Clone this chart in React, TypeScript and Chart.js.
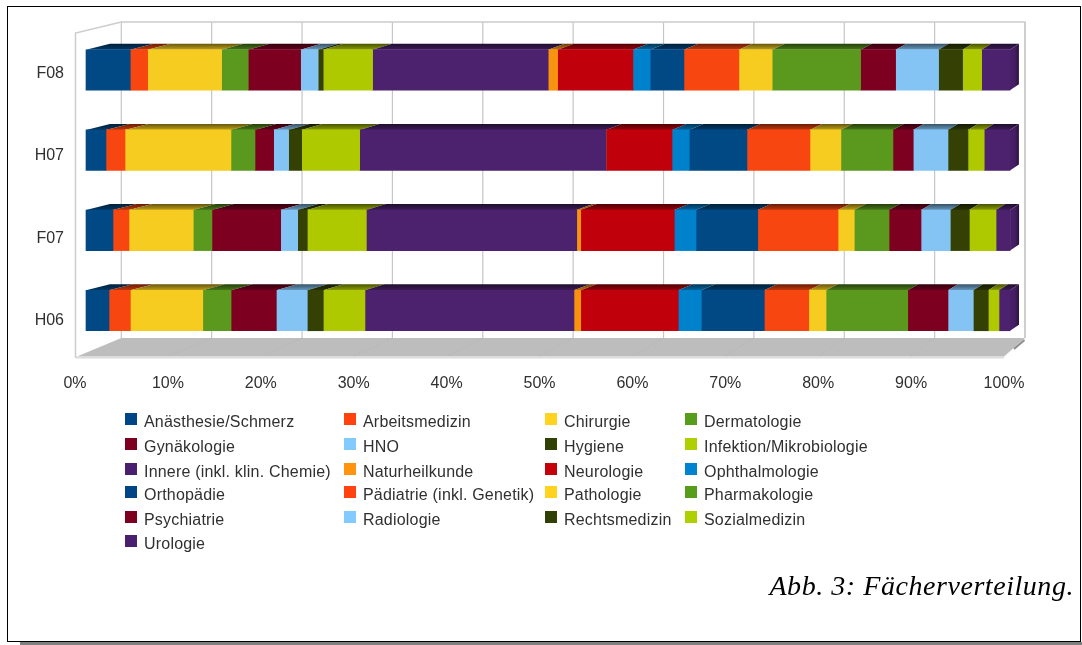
import React, { useEffect, useRef } from "react";
import { Chart, registerables } from "chart.js";

Chart.register(...registerables);

const periods = ["F08", "H07", "F07", "H06"];
const percentTicks = [0, 10, 20, 30, 40, 50, 60, 70, 80, 90, 100];

const subjects = [
  "Anästhesie/Schmerz", "Arbeitsmedizin", "Chirurgie", "Dermatologie",
  "Gynäkologie", "HNO", "Hygiene", "Infektion/Mikrobiologie",
  "Innere (inkl. klin. Chemie)", "Naturheilkunde", "Neurologie", "Ophthalmologie",
  "Orthopädie", "Pädiatrie (inkl. Genetik)", "Pathologie", "Pharmakologie",
  "Psychiatrie", "Radiologie", "Rechtsmedizin", "Sozialmedizin",
  "Urologie",
];

const legendColors = [
  "#004586", "#ff420e", "#ffd320", "#579d1c", "#7e0021", "#83caff", "#314004", "#aecf00",
  "#4b1f6f", "#ff950e", "#c5000b", "#0084d1", "#004586", "#ff420e", "#ffd320", "#579d1c",
  "#7e0021", "#83caff", "#314004", "#aecf00", "#4b1f6f",
];
const barColors = [
  "#004985", "#f7460f", "#f5cc1f", "#5a991e", "#7e0021", "#83c4f5", "#344004", "#aec900",
  "#4c216e", "#f7930e", "#c0000b", "#0081cc", "#004985", "#f7460f", "#f5cc1f", "#5a991e",
  "#7e0021", "#83c4f5", "#344004", "#aec900", "#4c216e",
];

const f08 = [4.79, 1.88, 8.01, 2.88, 5.67, 1.9, 0.54, 5.35, 19.0, 1.02, 8.15, 1.87, 3.65, 5.95, 3.6, 9.57, 3.79, 4.65, 2.6, 2.06, 3.06];
const h07 = [2.16, 2.06, 11.47, 2.6, 2.02, 1.62, 1.41, 6.28, 26.66, 0, 7.14, 1.87, 6.24, 6.82, 3.35, 5.63, 2.2, 3.76, 2.16, 1.76, 2.78];
const f07 = [2.92, 1.73, 6.96, 2.02, 7.44, 1.84, 1.04, 6.39, 22.77, 0.43, 10.13, 2.35, 6.68, 8.69, 1.76, 3.76, 3.46, 3.17, 2.06, 2.89, 1.52];
const h06 = [2.49, 2.31, 7.84, 3.06, 4.9, 3.35, 1.73, 4.51, 22.62, 0.73, 10.56, 2.49, 6.82, 4.81, 1.87, 8.84, 4.36, 2.74, 1.62, 1.16, 1.19];
const seriesByPeriod = [f08, h07, f07, h06];

const legendColumns = [125, 344, 545, 685];
const legendRows = [419, 444, 469, 492, 517, 541];
const caption = "Abb. 3: Fächerverteilung.";

const AREA = { left: 75, right: 1004, top: 32, bottom: 362 };
const SANS = '"Liberation Sans", Arial, sans-serif';

function shade(hex: string, f: number) {
  const n = parseInt(hex.slice(1), 16);
  const r = Math.round(((n >> 16) & 255) * f);
  const g = Math.round(((n >> 8) & 255) * f);
  const b = Math.round((n & 255) * f);
  return `rgb(${r},${g},${b})`;
}

const scenePlugin = {
  id: "scene",
  beforeDraw(chart: any) {
    const { ctx } = chart;
    const backX = (v: number) => 121.3 + v * 9.037;
    const frontX = (v: number) => 76 + v * 9.28;
    ctx.save();
    // floor
    ctx.fillStyle = "#bdbdbd";
    ctx.beginPath();
    ctx.moveTo(backX(0), 338);
    ctx.lineTo(backX(100), 338);
    ctx.lineTo(1004, 356.5);
    ctx.lineTo(77, 356.5);
    ctx.closePath();
    ctx.fill();
    ctx.fillStyle = "#dcdcdc";
    ctx.fillRect(76, 356.5, 928, 2);
    // floor corner
    ctx.strokeStyle = "#8c8c8c";
    ctx.lineWidth = 2;
    ctx.beginPath();
    ctx.moveTo(1024.5, 340);
    ctx.lineTo(1014, 349);
    ctx.stroke();
    // floor grid
    ctx.strokeStyle = "#b7b7b7";
    ctx.lineWidth = 1;
    ctx.setLineDash([2, 2]);
    for (const t of percentTicks.slice(1, -1)) {
      ctx.beginPath();
      ctx.moveTo(backX(t), 338);
      ctx.lineTo(frontX(t), 356);
      ctx.stroke();
    }
    ctx.setLineDash([]);
    // back wall grid
    ctx.strokeStyle = "#c6c6c6";
    ctx.lineWidth = 1.2;
    for (const t of percentTicks) {
      ctx.beginPath();
      ctx.moveTo(backX(t), 22);
      ctx.lineTo(backX(t), 338);
      ctx.stroke();
    }
    ctx.strokeStyle = "#cccccc";
    ctx.lineWidth = 1.5;
    ctx.beginPath();
    ctx.moveTo(75.5, 358);
    ctx.lineTo(75.5, 33);
    ctx.lineTo(121.3, 22);
    ctx.lineTo(1025, 22);
    ctx.lineTo(1025, 338);
    ctx.stroke();
    ctx.restore();
  },
  beforeDatasetsDraw(chart: any) {
    const { ctx } = chart;
    const depth = 6;
    const offset = (x: number) => 24 - (15 * (x - 86)) / 924;
    ctx.save();
    chart.data.datasets.forEach((ds: any, di: number) => {
      const meta = chart.getDatasetMeta(di);
      meta.data.forEach((bar: any) => {
        const p = bar.getProps(["x", "y", "base", "height"], true);
        if (Math.abs(p.x - p.base) < 0.01) return;
        const top = p.y - p.height / 2;
        const bottom = p.y + p.height / 2;
        const g = ctx.createLinearGradient(0, top - depth, 0, top);
        g.addColorStop(0, shade(ds.backgroundColor, 0.42));
        g.addColorStop(1, shade(ds.backgroundColor, 0.78));
        ctx.fillStyle = g;
        ctx.beginPath();
        ctx.moveTo(p.base, top);
        ctx.lineTo(p.base + offset(p.base), top - depth);
        ctx.lineTo(p.x + offset(p.x), top - depth);
        ctx.lineTo(p.x, top);
        ctx.closePath();
        ctx.fill();
        if (di === chart.data.datasets.length - 1) {
          const d = offset(p.x);
          const s = ctx.createLinearGradient(p.x, 0, p.x + d, 0);
          s.addColorStop(0, shade(ds.backgroundColor, 0.95));
          s.addColorStop(0.55, shade(ds.backgroundColor, 0.9));
          s.addColorStop(1, shade(ds.backgroundColor, 0.55));
          ctx.fillStyle = s;
          ctx.beginPath();
          ctx.moveTo(p.x, top);
          ctx.lineTo(p.x + d, top - depth);
          ctx.lineTo(p.x + d, bottom - depth);
          ctx.lineTo(p.x, bottom);
          ctx.closePath();
          ctx.fill();
        }
      });
    });
    ctx.restore();
  },
  afterDraw(chart: any) {
    const { ctx } = chart;
    ctx.save();
    ctx.textBaseline = "middle";
    ctx.textAlign = "left";
    ctx.font = `16px ${SANS}`;
    ctx.letterSpacing = "0.2px";
    subjects.forEach((name, i) => {
      const col = legendColumns[i % 4];
      const y = legendRows[Math.floor(i / 4)];
      ctx.fillStyle = legendColors[i];
      ctx.fillRect(col, y - 6, 12, 12);
      ctx.fillStyle = "#303030";
      ctx.fillText(name, col + 19, y + 4);
    });
    ctx.font = 'italic 28px "Liberation Serif", serif';
    ctx.letterSpacing = "0.55px";
    ctx.textAlign = "right";
    ctx.fillStyle = "#000000";
    ctx.fillText(caption, 1074, 588);
    ctx.restore();
  },
};

export default function App() {
  const ref = useRef<HTMLCanvasElement>(null);
  useEffect(() => {
    const chart = new Chart(ref.current!, {
      type: "bar",
      plugins: [scenePlugin],
      data: {
        labels: periods,
        datasets: subjects.map((name, s) => ({
          label: name,
          backgroundColor: barColors[s],
          borderWidth: 0,
          barThickness: 40.5,
          clip: false as any,
          xAxisID: "xBars",
          yAxisID: "yBars",
          stack: "all",
          data: seriesByPeriod.map((series, p) => ({ x: series[s], y: p })),
        })),
      },
      options: {
        indexAxis: "y",
        animation: false,
        responsive: false,
        devicePixelRatio: 1,
        layout: {
          padding: { left: 0, top: AREA.top, right: 1082 - AREA.right, bottom: 0 },
        },
        plugins: { legend: { display: false }, title: { display: false }, tooltip: { enabled: false } },
        scales: {
          x: {
            type: "linear",
            position: "bottom",
            min: 0,
            max: 100,
            grid: { display: false, drawTicks: false },
            border: { display: false },
            afterFit: (s: any) => { s.height = 645 - AREA.bottom; },
            afterBuildTicks: (s: any) => { s.ticks = percentTicks.map((value) => ({ value })); },
            ticks: {
              padding: 12,
              maxRotation: 0,
              autoSkip: false,
              color: "#303030",
              font: { family: SANS, size: 16 },
              callback: (v: any) => `${v}%`,
            },
          },
          y: {
            type: "category",
            position: "left",
            labels: periods,
            offset: true,
            grid: { display: false, drawTicks: false },
            border: { display: false },
            afterFit: (s: any) => { s.width = AREA.left; },
            ticks: { padding: 11, color: "#303030", font: { family: SANS, size: 16 } },
          },
          xBars: {
            type: "linear",
            axis: "x",
            display: false,
            stacked: true,
            min: -(86 - AREA.left) / 9.24,
            max: (AREA.right - 86) / 9.24,
          },
          yBars: {
            type: "linear",
            axis: "y",
            display: false,
            reverse: true,
            offset: false,
            stacked: true,
            min: (AREA.top - 70) / 80.17,
            max: (AREA.bottom - 70) / 80.17,
          },
        } as any,
      } as any,
    });
    return () => chart.destroy();
  }, []);
  return (
    <div style={{ position: "fixed", left: 0, top: 0, width: 1082, height: 645, background: "#fff", overflow: "hidden" }}>
      <div style={{ position: "absolute", left: 7, top: 6, width: 1074, height: 636, border: "1px solid #000", boxSizing: "border-box" }} />
      <div style={{ position: "absolute", left: 20, top: 642, width: 1062, height: 3, background: "#808080" }} />
      <canvas ref={ref} width={1082} height={645} style={{ position: "absolute", left: 0, top: 0, width: 1082, height: 645 }} />
    </div>
  );
}
